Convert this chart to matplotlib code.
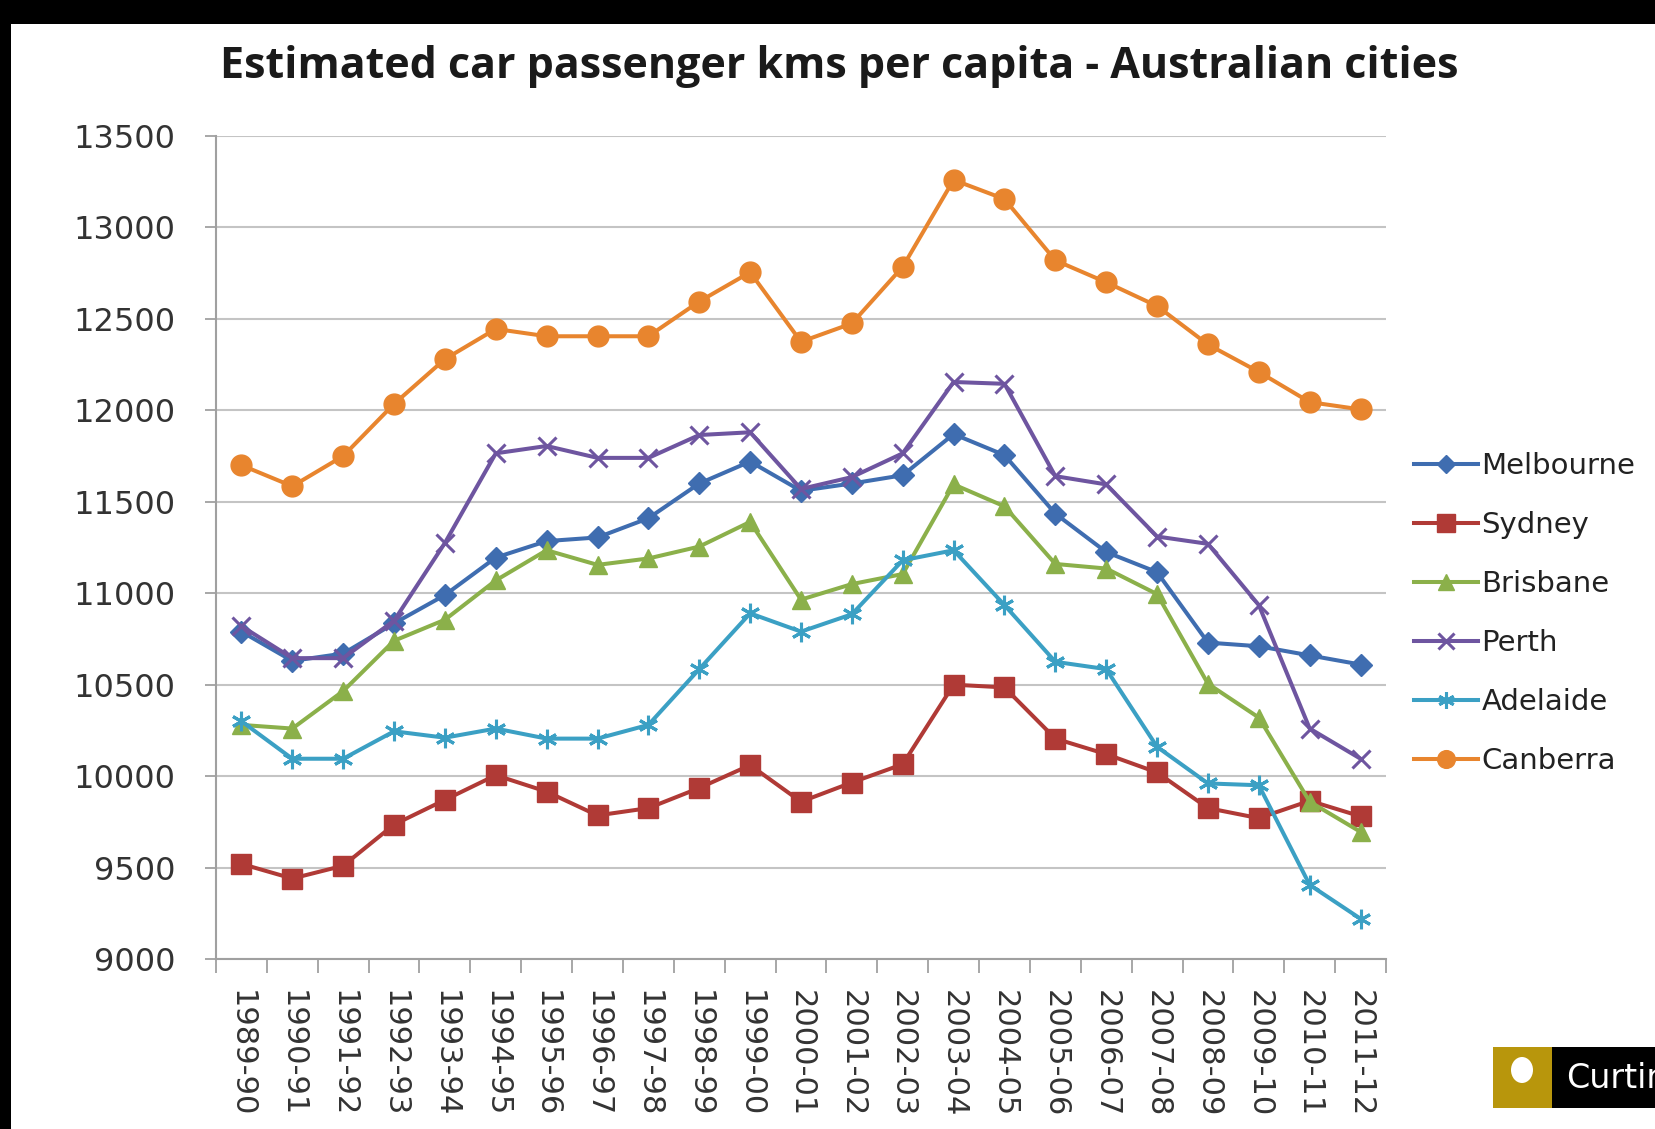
import numpy as np
import matplotlib.pyplot as plt
from matplotlib.patches import Rectangle, Ellipse

years = ['1989-90', '1990-91', '1991-92', '1992-93', '1993-94', '1994-95',
         '1995-96', '1996-97', '1997-98', '1998-99', '1999-00', '2000-01',
         '2001-02', '2002-03', '2003-04', '2004-05', '2005-06', '2006-07',
         '2007-08', '2008-09', '2009-10', '2010-11', '2011-12']

melbourne = [10790, 10630, 10670, 10835, 10990, 11195, 11285, 11305, 11410, 11600, 11720, 11560,
             11600, 11645, 11870, 11755, 11435, 11225, 11115, 10730, 10710, 10660, 10610]
sydney = [9520, 9440, 9510, 9735, 9870, 10005, 9915, 9785, 9825, 9935, 10060, 9860,
          9965, 10065, 10500, 10485, 10205, 10120, 10020, 9825, 9770, 9865, 9780]
brisbane = [10280, 10260, 10465, 10740, 10855, 11070, 11235, 11155, 11190, 11255, 11390, 10965,
            11050, 11105, 11595, 11475, 11160, 11135, 10995, 10505, 10320, 9860, 9695]
perth = [10820, 10645, 10645, 10850, 11275, 11765, 11805, 11740, 11740, 11865, 11880, 11570,
         11635, 11765, 12155, 12145, 11640, 11595, 11310, 11270, 10935, 10260, 10095]
adelaide = [10300, 10095, 10095, 10245, 10210, 10260, 10205, 10205, 10280, 10585, 10890, 10790,
            10885, 11180, 11235, 10935, 10625, 10585, 10160, 9960, 9950, 9405, 9220]
canberra = [11700, 11585, 11750, 12035, 12280, 12445, 12405, 12405, 12405, 12595, 12755, 12375,
            12475, 12785, 13260, 13155, 12820, 12700, 12570, 12360, 12210, 12045, 12005]

series = [
    ('Melbourne', melbourne, '#3F6DB0', 'D', 11),
    ('Sydney', sydney, '#B03A36', 's', 15),
    ('Brisbane', brisbane, '#8BB04A', '^', 13),
    ('Perth', perth, '#6E55A0', 'x', 13),
    ('Adelaide', adelaide, '#3BA0C4', (6, 2, 0), 14),
    ('Canberra', canberra, '#E8852E', 'o', 15),
]

fig = plt.figure(figsize=(16.55, 11.29), dpi=100, facecolor='black')
fig.patches.append(Rectangle((11 / 1655, 0), 1, 1 - 24 / 1129, transform=fig.transFigure,
                             facecolor='white', edgecolor='none', zorder=-5))

ax = fig.add_axes([216 / 1655, 1 - 959 / 1129, (1386 - 216) / 1655, (959 - 136) / 1129])
ax.set_facecolor('white')
x = np.arange(len(years))
for name, vals, col, mk, ms in series:
    ax.plot(x, vals, color=col, lw=2.9, marker=mk, markersize=ms, mew=2.2 if mk in ('x', (6, 2, 0)) else 1,
            label=name, zorder=3)

ax.set_xlim(-0.5, len(years) - 0.5)
ax.set_ylim(9000, 13500)
ax.set_yticks(np.arange(9000, 13501, 500))
ax.yaxis.grid(True, color='#c4c4c4', lw=1.5)
ax.set_axisbelow(True)
for s in ['top', 'right']:
    ax.spines[s].set_visible(False)
for s in ['left', 'bottom']:
    ax.spines[s].set_color('#a0a0a0')
    ax.spines[s].set_linewidth(1.5)

ax.set_xticks(x)
ax.set_xticklabels(years, rotation=270, fontsize=22, color='#333333', family='DejaVu Sans')
ax.set_xticks(np.arange(-0.5, len(years), 1), minor=True)
ax.tick_params(axis='x', which='major', length=0, pad=22)
ax.tick_params(axis='x', which='minor', length=10, width=1.3, color='#a0a0a0', direction='out')
ax.tick_params(axis='y', length=8, width=1.3, color='#a0a0a0', labelsize=23, labelcolor='#333333', pad=21)

fig.text(839 / 1655, 1 - 67 / 1129, 'Estimated car passenger kms per capita - Australian cities',
         ha='center', va='center', fontsize=31, fontweight='bold', family='Open Sans', color='#1a1a1a')

leg = fig.legend(loc='upper left', bbox_to_anchor=(1388 / 1655, 1 - 426 / 1129), frameon=False,
                 fontsize=21, handlelength=2.2, handletextpad=0.1, labelspacing=1.06,
                 markerscale=0.85)
for t in leg.get_texts():
    t.set_color('#222222')

# logo
fig.patches.append(Rectangle((1493 / 1655, 1 - 1108 / 1129), 59 / 1655, 61 / 1129,
                             transform=fig.transFigure, facecolor='#B8960C', edgecolor='none'))
fig.patches.append(Rectangle((1552 / 1655, 1 - 1108 / 1129), 103 / 1655, 61 / 1129,
                             transform=fig.transFigure, facecolor='black', edgecolor='none'))
fig.patches.append(Ellipse((1522 / 1655, 1 - 1070 / 1129), 22 / 1655, 26 / 1129,
                           transform=fig.transFigure, facecolor='white', edgecolor='none'))
fig.text(1566 / 1655, 1 - 1078 / 1129, 'Curtin', color='white', fontsize=24, va='center', ha='left')

fig.savefig('out.png', dpi=100, facecolor=fig.get_facecolor())
